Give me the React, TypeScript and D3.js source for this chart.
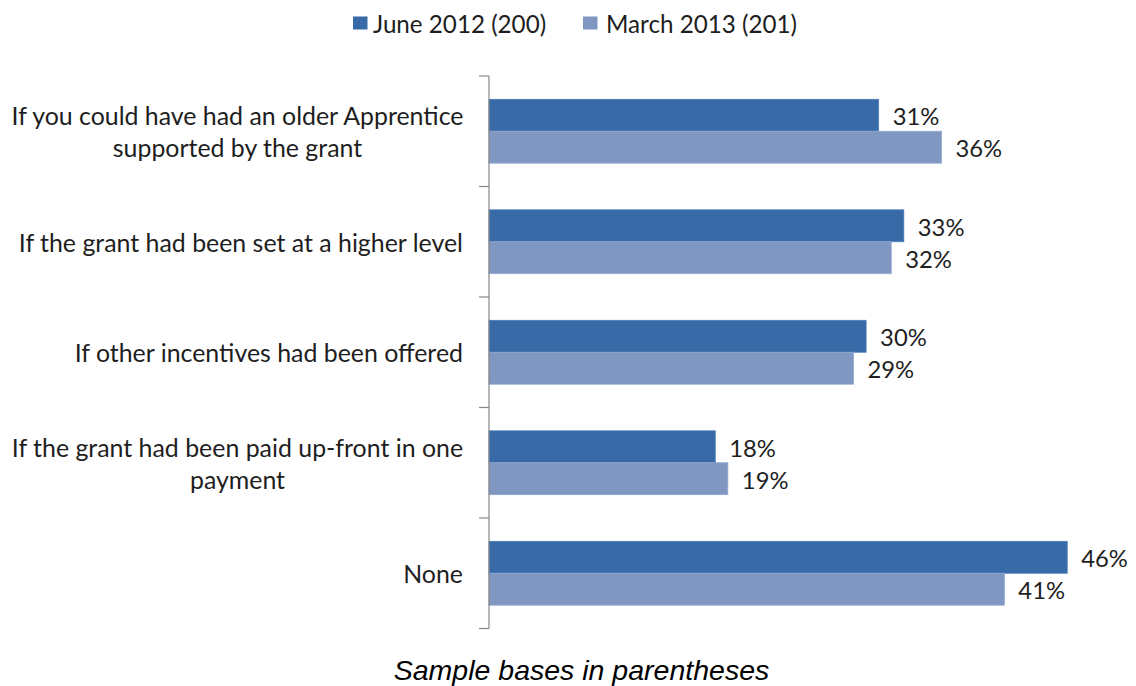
import React, { useEffect, useRef } from "react";
import * as d3 from "d3";

const categories = [
  "If you could have had an older Apprentice supported by the grant",
  "If the grant had been set at a higher level",
  "If other incentives had been offered",
  "If the grant had been paid up-front in one payment",
  "None",
];

// tick label lines, as wrapped in the original
const categoryLines = [
  ["If you could have had an older Apprentice", "supported by the grant"],
  ["If the grant had been set at a higher level"],
  ["If other incentives had been offered"],
  ["If the grant had been paid up-front in one", "payment"],
  ["None"],
];

const seriesNames = ["June 2012 (200)", "March 2013 (201)"];
const june2012 = [0.31, 0.33, 0.3, 0.18, 0.46];
const march2013 = [0.36, 0.32, 0.29, 0.19, 0.41];
const seriesColors = ["#376AA6", "#7F97C1"];
const seriesStrokes = ["#4A7DB9", "#93A9D0"];

const footnote = "Sample bases in parentheses";

const W = 1136;
const H = 686;
const FONT = "Lato, 'Open Sans', sans-serif";

export default function App() {
  const ref = useRef<SVGSVGElement>(null);

  useEffect(() => {
    const svg = d3.select(ref.current);
    svg.selectAll("*").remove();

    const values = [june2012, march2013];

    // X scale
    const x = d3.scaleLinear().domain([0, 0.5]).range([489, 1117.5]);

    // Y scale (one band per category)
    const y = d3.scaleBand<number>().domain(d3.range(categories.length)).range([76, 628.5]).padding(0);

    // series inside a band
    const sub = d3
      .scaleBand<number>()
      .domain(d3.range(seriesNames.length))
      .range([0, y.bandwidth()])
      .paddingInner(0)
      .paddingOuter(0.73);

    // bars
    values.forEach((vals, s) => {
      svg
        .append("g")
        .selectAll("rect")
        .data(vals)
        .join("rect")
        .attr("x", x(0))
        .attr("y", (_d, i) => (y(i) as number) + (sub(s) as number))
        .attr("width", (d) => x(d) - x(0))
        .attr("height", sub.bandwidth())
        .attr("fill", seriesColors[s])
        .attr("stroke", seriesStrokes[s])
        .attr("stroke-width", 0.8);

      // data labels
      svg
        .append("g")
        .selectAll("text")
        .data(vals)
        .join("text")
        .attr("x", (d) => x(d) + 14)
        .attr("y", (_d, i) => (y(i) as number) + (sub(s) as number) + sub.bandwidth() / 2 + 1)
        .attr("dominant-baseline", "central")
        .style("font-family", FONT)
        .style("font-size", "23.8px")
        .attr("fill", "#1E1E1E")
        .text((d) => `${Math.round(d * 100)}%`);
    });

    // Y axis line and ticks at band edges
    const axis = svg.append("g").attr("stroke", "#868686").attr("stroke-width", 1.2);
    axis
      .append("line")
      .attr("x1", x(0))
      .attr("x2", x(0))
      .attr("y1", y.range()[0])
      .attr("y2", y.range()[1]);
    const edges = [...categories.map((_c, i) => y(i) as number), y.range()[1]];
    axis
      .selectAll("line.tick")
      .data(edges)
      .join("line")
      .attr("class", "tick")
      .attr("x1", x(0) - 10)
      .attr("x2", x(0))
      .attr("y1", (d) => d)
      .attr("y2", (d) => d);

    // category labels
    const labels = svg
      .append("g")
      .selectAll("text")
      .data(categoryLines)
      .join("text")
      .style("font-family", FONT)
      .style("font-size", "24.9px")
      .attr("fill", "#1E1E1E")
      .attr("text-anchor", (d) => (d.length > 1 ? "middle" : "end"))
      .attr("dominant-baseline", "central");
    labels.each(function (lines, i) {
      const cy = (y(i) as number) + y.bandwidth() / 2;
      const lh = 32;
      d3.select(this)
        .selectAll("tspan")
        .data(lines)
        .join("tspan")
        .attr("x", lines.length > 1 ? 237.5 : 463)
        .attr("y", (_l, j) => cy + (j - (lines.length - 1) / 2) * lh)
        .text((l) => l);
    });

    // legend
    const legendX = [353, 583];
    const legend = svg
      .append("g")
      .selectAll("g")
      .data(seriesNames)
      .join("g")
      .attr("transform", (_d, i) => `translate(${legendX[i]},0)`);
    legend
      .append("rect")
      .attr("x", 0)
      .attr("y", 16.5)
      .attr("width", 14.5)
      .attr("height", 13)
      .attr("fill", (_d, i) => seriesColors[i]);
    legend
      .append("text")
      .attr("x", (_d, i) => (i === 0 ? 20 : 23))
      .attr("y", 23)
      .attr("dominant-baseline", "central")
      .style("font-family", FONT)
      .style("font-size", "24.2px")
      .attr("fill", "#1E1E1E")
      .text((d) => d);

    // footnote
    svg
      .append("text")
      .attr("x", 581.5)
      .attr("y", 680)
      .attr("text-anchor", "middle")
      .style("font-family", "'Liberation Sans', Arial, sans-serif")
      .style("font-style", "italic")
      .style("font-size", "28.5px")
      .attr("fill", "#000")
      .text(footnote);
  }, []);

  return (
    <svg
      ref={ref}
      width={W}
      height={H}
      style={{ position: "absolute", left: 0, top: 0, background: "#fff" }}
    />
  );
}
